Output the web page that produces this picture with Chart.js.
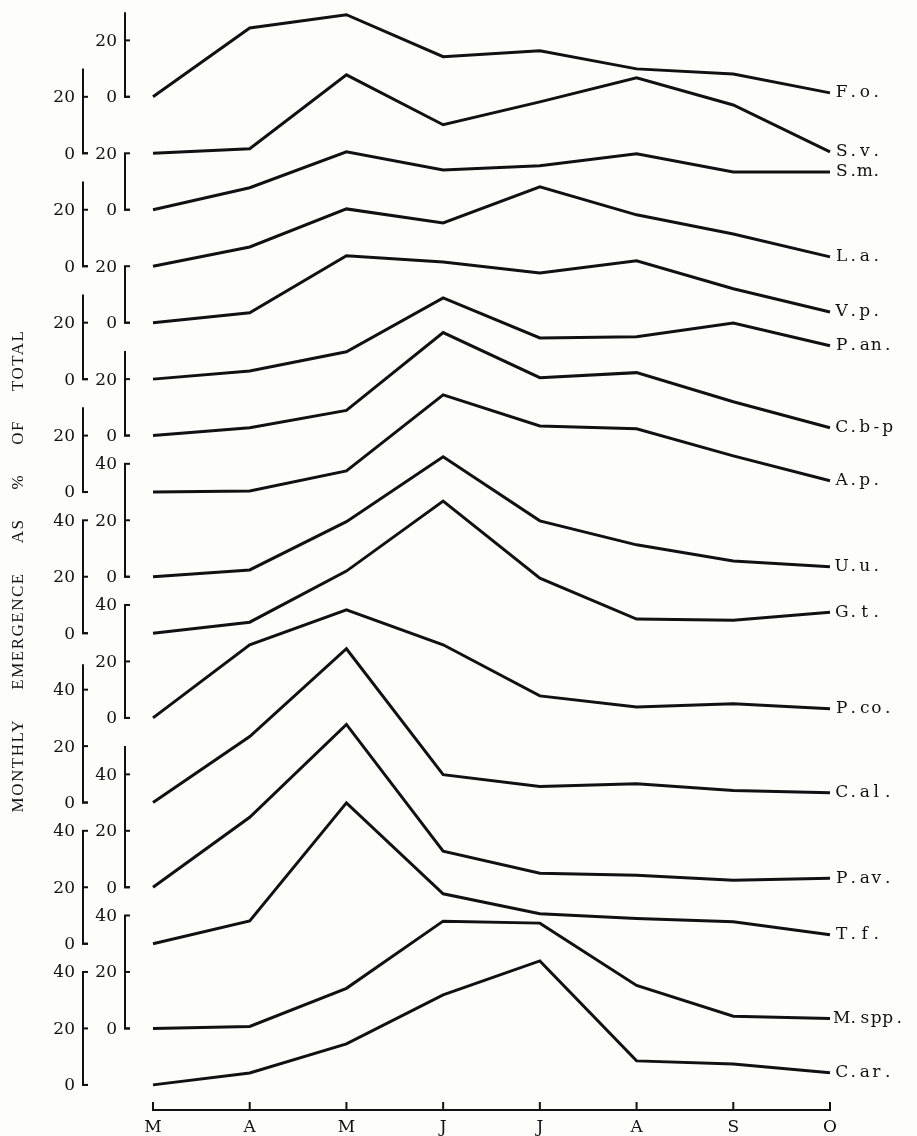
<!DOCTYPE html>
<html lang="en">
<head>
<meta charset="UTF-8">
<title>Monthly emergence as % of total</title>
<style>
  html, body { margin: 0; padding: 0; background: #fdfdf9; }
  canvas { display: block; }
</style>
</head>
<body>
<canvas id="chart" width="917" height="1136"></canvas>
<script src="https://cdn.jsdelivr.net/npm/chart.js"></script>
<script>
// months on the bottom axis, March to October
const months = ['M', 'A', 'M', 'J', 'J', 'A', 'S', 'O'];

// monthly emergence, % of total, one array per species (top panel first)
const fo   = [0, 24.4, 29.1, 14.2, 16.3, 9.9, 8.1, 1.4];
const sv   = [0, 1.6, 27.8, 10.1, 18.2, 26.7, 17.1, 0.5];
const sm   = [0, 7.8, 20.5, 14.1, 15.6, 19.8, 13.4, 13.4];
const la   = [0, 6.8, 20.3, 15.3, 28.1, 18.2, 11.4, 3.3];
const vp   = [0, 3.5, 23.7, 21.5, 17.6, 21.9, 12.0, 3.8];
const pan  = [0, 2.9, 9.7, 28.8, 14.6, 15.0, 19.9, 11.8];
const cbp  = [0, 2.8, 8.9, 36.5, 20.5, 22.3, 12.0, 2.8];
const ap   = [0, 0.4, 7.5, 34.4, 23.4, 22.4, 12.8, 4.0];
const uu   = [0, 2.4, 19.5, 42.5, 19.8, 11.3, 5.6, 3.5];
const gt   = [0, 3.9, 22.0, 46.8, 19.5, 5.0, 4.6, 7.4];
const pco  = [0, 25.9, 38.3, 25.9, 7.8, 3.9, 5.0, 3.2];
const cal  = [0, 23.4, 54.5, 9.9, 5.7, 6.7, 4.3, 3.5];
const pav  = [0, 24.8, 57.7, 12.8, 5.0, 4.3, 2.5, 3.2];
const tf   = [0, 8.1, 49.9, 17.7, 10.6, 8.9, 7.8, 3.2];
const mspp = [0, 0.7, 14.2, 38.0, 37.3, 15.2, 4.3, 3.5];
const car  = [0, 4.2, 14.5, 31.9, 43.9, 8.5, 7.4, 4.3];

const species = ['F.o.', 'S.v.', 'S.m.', 'L.a.', 'V.p.', 'P.an.', 'C.b-p', 'A.p.',
                 'U.u.', 'G.t.', 'P.co.', 'C.al.', 'P.av.', 'T.f.', 'M.spp.', 'C.ar.'];
const seriesValues = [fo, sv, sm, la, vp, pan, cbp, ap, uu, gt, pco, cal, pav, tf, mspp, car];

// zero of each panel, in % units above the zero of the bottom panel
const panelZero = [350, 330, 310, 290, 270, 250, 230, 210, 180, 160, 130, 100, 70, 50, 20, 0];
// labelled ticks on each panel's little scale, and how far its line runs up
const panelTicks = [[0, 20], [0, 20], [0, 20], [0, 20], [0, 20], [0, 20], [0, 20], [0, 20],
                    [0, 20, 40], [0, 20, 40], [0, 20, 40], [0, 20, 40], [0, 20, 40],
                    [0, 20, 40], [0, 20, 40], [0, 20, 40]];
const panelTop = [30, 30, 20, 30, 20, 30, 30, 30, 40, 40, 40, 49, 50, 40, 40, 40];

const yTitle = 'MONTHLY EMERGENCE AS % OF TOTAL';

const ink = '#111111';
const paper = '#fdfdf9';

// typewriter-ish labels: one character per fixed cell
function drawMono(c, text, x, y, cell) {
  for (let k = 0; k < text.length; k++) {
    c.fillText(text[k], x + cell * k + cell / 2, y);
  }
}

const panelsPlugin = {
  id: 'panels',
  beforeDraw(chart) {
    const c = chart.ctx;
    c.save();
    c.fillStyle = paper;
    c.fillRect(0, 0, chart.width, chart.height);
    c.restore();
  },
  afterDraw(chart) {
    const c = chart.ctx;
    const y = chart.scales.y;
    const x = chart.scales.x;
    const area = chart.chartArea;
    c.save();
    c.strokeStyle = ink;
    c.fillStyle = ink;
    c.lineWidth = 2;
    c.lineCap = 'butt';
    c.lineJoin = 'miter';

    // small scales at the left, alternating inner and outer column
    c.font = '17px "DejaVu Serif"';
    c.textAlign = 'right';
    c.textBaseline = 'middle';
    species.forEach((name, i) => {
      const ax = area.left - (i % 2 ? 70 : 28);
      const zero = panelZero[i];
      const top = y.getPixelForValue(zero + panelTop[i]);
      const bottom = y.getPixelForValue(zero);
      c.beginPath();
      c.moveTo(ax, top);
      c.lineTo(ax, bottom);
      c.lineTo(ax + 5, bottom);
      c.stroke();
      panelTicks[i].forEach(t => {
        const py = y.getPixelForValue(zero + t);
        c.beginPath();
        c.moveTo(ax - 1, py);
        c.lineTo(ax + 5, py);
        c.stroke();
        c.fillText(String(t), ax - 8, py + 1);
      });
    });

    // species names at the end of each line
    c.font = '17px "DejaVu Serif"';
    c.textAlign = 'center';
    species.forEach((name, i) => {
      const vals = seriesValues[i];
      const py = y.getPixelForValue(panelZero[i] + vals[vals.length - 1]);
      drawMono(c, name, area.right + 6, py, 11.5);
    });

    // month ticks pointing up from the axis
    months.forEach((m, k) => {
      const px = x.getPixelForValue(k);
      c.beginPath();
      c.moveTo(px, area.bottom);
      c.lineTo(px, area.bottom - 8);
      c.stroke();
    });

    // rotated axis title, words spaced wide
    c.font = '17px "Liberation Serif"';
    c.letterSpacing = '1.5px';
    c.textAlign = 'left';
    c.textBaseline = 'middle';
    c.translate(19, 571);
    c.rotate(-Math.PI / 2);
    const words = yTitle.split(' ');
    const gap = 29;
    const widths = words.map(w => c.measureText(w).width);
    const total = widths.reduce((a, b) => a + b, 0) + gap * (words.length - 1);
    let px = -total / 2;
    words.forEach((w, k) => {
      c.fillText(w, px, 0);
      px += widths[k] + gap;
    });
    c.restore();
  }
};

const chart = new Chart(document.getElementById('chart').getContext('2d'), {
  type: 'line',
  data: {
    labels: months,
    datasets: seriesValues.map((vals, i) => ({
      label: species[i],
      data: vals.map(v => panelZero[i] + v),
      borderColor: ink,
      borderWidth: 3,
      borderJoinStyle: 'miter',
      pointRadius: 0,
      tension: 0,
      fill: false
    }))
  },
  options: {
    responsive: false,
    animation: false,
    devicePixelRatio: 1,
    layout: { padding: { left: 153, right: 87, top: 0, bottom: 0 } },
    plugins: { legend: { display: false }, tooltip: { enabled: false } },
    scales: {
      x: {
        type: 'category',
        offset: false,
        grid: { display: false, drawTicks: false },
        border: { display: true, color: ink, width: 2 },
        ticks: {
          color: ink,
          font: { family: 'DejaVu Serif', size: 17 },
          padding: 7,
          maxRotation: 0,
          autoSkip: false
        },
        afterFit(scale) { scale.height = 26; }
      },
      y: {
        type: 'linear',
        display: false,
        min: -8.9,
        max: 384.3
      }
    }
  },
  plugins: [panelsPlugin]
});
</script>
</body>
</html>
